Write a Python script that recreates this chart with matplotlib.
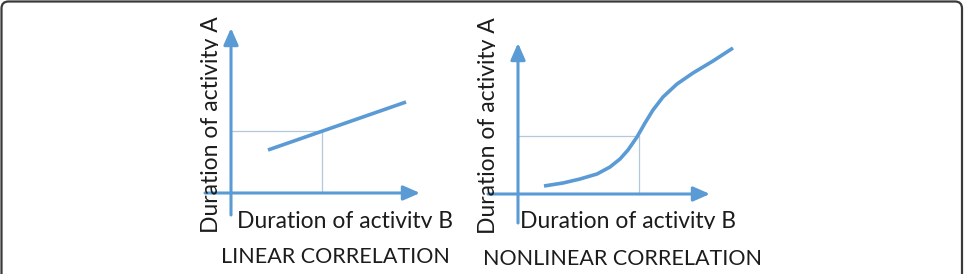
import matplotlib.pyplot as plt
from matplotlib.patches import FancyBboxPatch
from matplotlib.transforms import Bbox, TransformedBbox, IdentityTransform

# Дані (одиниці відносно точки перетину осей)
lin_x = [0.37, 1.75]
lin_y = [0.43, 0.91]
lin_guide = (0.91, 0.62)

nonlin_x = [0.26, 0.45, 0.62, 0.79, 0.92, 1.02, 1.10, 1.19, 1.27, 1.35, 1.45, 1.59, 1.75, 1.95, 2.15]
nonlin_y = [0.08, 0.11, 0.15, 0.20, 0.27, 0.35, 0.44, 0.57, 0.71, 0.84, 0.97, 1.10, 1.21, 1.33, 1.46]
nonlin_guide = (1.21, 0.58)

x_label = "Duration of activity B"
y_label = "Duration of activity A"
titles = ["LINEAR CORRELATION", "NONLINEAR CORRELATION"]

BLUE = "#5B9BD5"
GUIDE = "#B4C8DD"
TEXT = "#1C1C1C"
W, H = 967, 274

plt.rcParams['font.family'] = ['Lato', 'DejaVu Sans']
fig = plt.figure(figsize=(W / 100, H / 100), dpi=100)


def make_axes(origin, xlim, ylim):
    ox, oy = origin
    left = ox + xlim[0] * 100
    right = ox + xlim[1] * 100
    top = oy - ylim[1] * 100
    bottom = oy - ylim[0] * 100
    ax = fig.add_axes([left / W, (H - bottom) / H, (right - left) / W, (bottom - top) / H])
    ax.set_xlim(*xlim)
    ax.set_ylim(*ylim)
    ax.axis("off")
    return ax


def arrow(ax, start, end):
    ax.annotate("", xy=end, xytext=start,
                arrowprops=dict(arrowstyle="-|>,head_length=0.5,head_width=0.22",
                                color=BLUE, lw=2.2, mutation_scale=20,
                                shrinkA=0, shrinkB=0), annotation_clip=False)


def clip_text(ax, txt, box):
    # обрізаємо хвостик "y", як на оригіналі
    txt.set_clip_path(None)
    txt.set_clip_box(TransformedBbox(Bbox(box), ax.transData))
    txt.set_clip_on(True)


def draw_panel(ax, xs, ys, guide, h_axis, v_axis, ylab_pos, xlab_pos, title_pos, title):
    gx, gy = guide
    ax.plot([0, gx], [gy, gy], color=GUIDE, lw=0.9, clip_on=False)
    ax.plot([gx, gx], [0, gy], color=GUIDE, lw=0.9, clip_on=False)
    arrow(ax, (h_axis[0], 0), (h_axis[1], 0))
    arrow(ax, (0, v_axis[0]), (0, v_axis[1]))
    ax.plot(xs, ys, color=BLUE, lw=2.6, solid_capstyle="butt", clip_on=False)

    t = ax.text(ylab_pos[0], ylab_pos[1], y_label, rotation=90, rotation_mode="anchor",
                ha="center", va="baseline", fontsize=16.5, color=TEXT)
    clip_text(ax, t, [[-1, -1], [ylab_pos[0] + 0.004, 2]])
    t = ax.text(xlab_pos[0], xlab_pos[1], x_label, ha="left", va="baseline",
                fontsize=16.5, color=TEXT)
    clip_text(ax, t, [[-1, xlab_pos[1] - 0.004], [3, 2]])
    ax.text(title_pos[0], title_pos[1], title, ha="center", va="baseline",
            fontsize=15.5, color=TEXT, clip_on=False)


ax1 = make_axes((231, 193), (-0.5, 2.3), (-0.6, 1.85))
draw_panel(ax1, lin_x, lin_y, lin_guide, (-0.26, 1.89), (-0.22, 1.65),
           (-0.13, 0.68), (0.06, -0.35), (1.35 - 0.31, -0.70), titles[0])

ax2 = make_axes((518, 194), (-0.5, 2.5), (-0.6, 1.85))
draw_panel(ax2, nonlin_x, nonlin_y, nonlin_guide, (-0.30, 1.92), (-0.29, 1.51),
           (-0.23, 0.685), (0.02, -0.343), (1.045, -0.71), titles[1])

# Рамка з заокругленими кутами
frame = FancyBboxPatch((1.5, -30), 960.5, H - 1.5 + 30,
                       boxstyle="round,pad=0,rounding_size=7",
                       transform=IdentityTransform(), fill=False,
                       edgecolor="#3A3A3A", lw=1.6)
fig.patches.append(frame)

fig.savefig("out.png", dpi=100)
